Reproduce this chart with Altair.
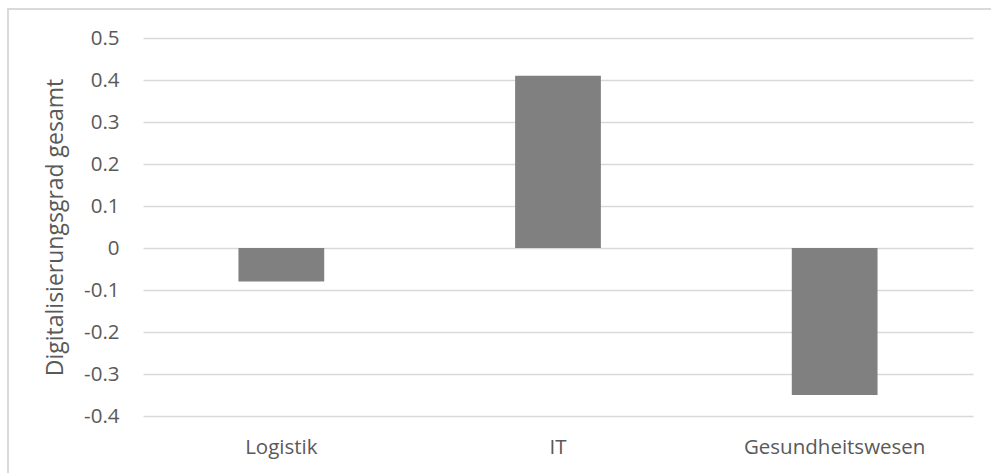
import altair as alt
import pandas as pd

# Digitalisierungsgrad je Branche
branchen = ["Logistik", "IT", "Gesundheitswesen"]
digitalisierungsgrad = [-0.08, 0.41, -0.35]
y_ticks = [-0.4, -0.3, -0.2, -0.1, 0, 0.1, 0.2, 0.3, 0.4, 0.5]

df = pd.DataFrame({"Branche": branchen, "Wert": digitalisierungsgrad})

FONT = "Open Sans"
TEXT = "#595959"
GRID = "#d9d9d9"
LABEL_SIZE = 20.5
TITLE_SIZE = 23

bars = alt.Chart(df).mark_bar(color="#808080").encode(
    x=alt.X(
        "Branche:N",
        sort=branchen,
        title=None,
        scale=alt.Scale(paddingInner=0.69, paddingOuter=0.345),
        axis=alt.Axis(
            labelAngle=0,
            labelFont=FONT,
            labelFontSize=LABEL_SIZE,
            labelColor=TEXT,
            labelLimit=400,
            ticks=False,
            domain=False,
            labelPadding=21,
        ),
    ),
    y=alt.Y(
        "Wert:Q",
        title="Digitalisierungsgrad gesamt",
        scale=alt.Scale(domain=[-0.4, 0.5], nice=False, zero=False),
        axis=alt.Axis(
            values=y_ticks,
            labelExpr="replace(format(datum.value, '~g'), '\u2212', '-')",
            labelFont=FONT,
            labelFontSize=LABEL_SIZE,
            labelColor=TEXT,
            labelPadding=24,
            ticks=False,
            domain=False,
            grid=True,
            gridColor=GRID,
            gridWidth=1.3,
            titleFont=FONT,
            titleFontSize=TITLE_SIZE,
            titleFontWeight="normal",
            titleColor=TEXT,
            titlePadding=16,
        ),
    ),
)

# outer frame of the chart area
frame = alt.Chart(df).mark_rect(
    fill=None, stroke=GRID, strokeWidth=1.3
).encode(
    x=alt.value(-135),
    x2=alt.value(900),
    y=alt.value(-29),
    y2=alt.value(500),
)

chart = alt.layer(frame, bars).properties(
    width=830,
    height=378,
    autosize=alt.AutoSizeParams(type="none"),
    padding={"left": 143, "top": 38, "right": 18, "bottom": 57},
    background="white",
).configure_view(stroke=None)

chart.save("out.html", embed_options={"renderer": "svg", "actions": False})
